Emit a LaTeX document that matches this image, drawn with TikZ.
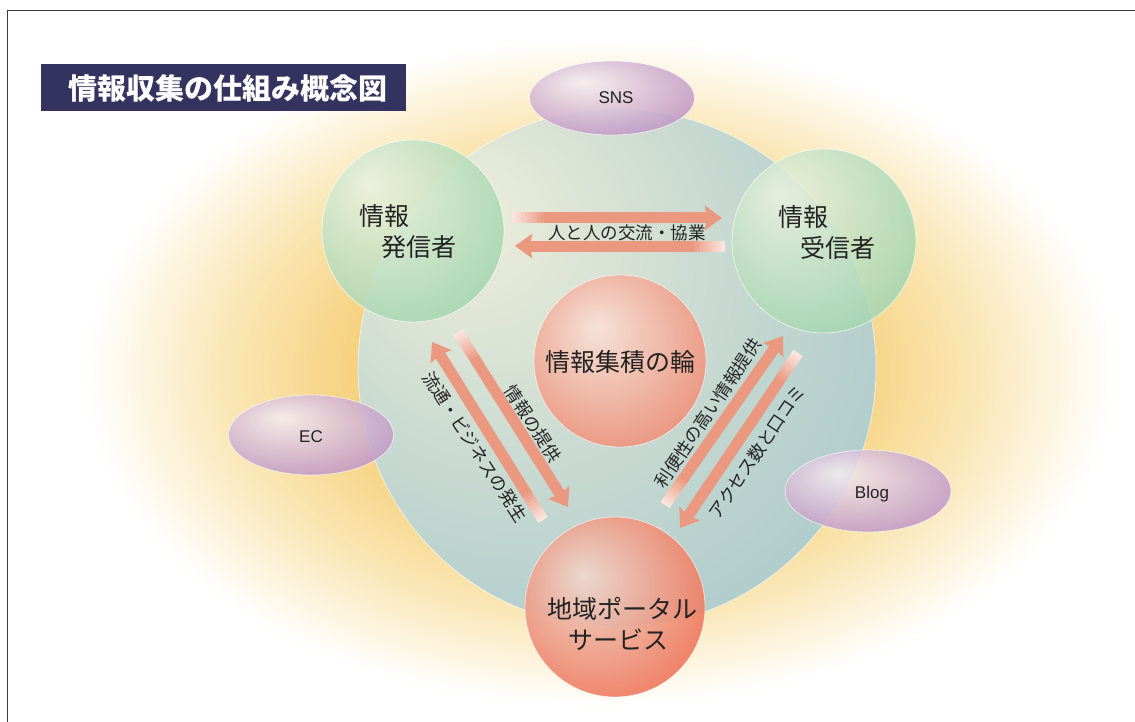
\documentclass[tikz,border=0pt]{standalone}
\usepackage{fontspec}
\newfontfamily\jp{Noto Sans CJK JP}
\newfontfamily\lat{Liberation Sans}
\usetikzlibrary{arrows.meta,calc,shapes.geometric}

\definecolor{navy}{RGB}{52,51,95}
\definecolor{arrowc}{RGB}{234,152,128}
\definecolor{txt}{RGB}{35,35,35}
\definecolor{framec}{RGB}{60,60,60}
\definecolor{glowA}{RGB}{245,206,118}
\definecolor{glowB}{RGB}{250,230,180}
\definecolor{bigA}{RGB}{240,239,218}
\definecolor{bigB}{RGB}{205,220,210}
\definecolor{bigC}{RGB}{156,194,200}
\definecolor{grA}{RGB}{236,242,224}
\definecolor{grB}{RGB}{150,208,166}
\definecolor{rdA}{RGB}{246,226,216}
\definecolor{rdB}{RGB}{232,138,114}
\definecolor{ptA}{RGB}{238,216,206}
\definecolor{ptB}{RGB}{239,102,71}
\definecolor{puA}{RGB}{245,238,240}
\definecolor{puB}{RGB}{182,134,188}

\pgfdeclareradialshading{glowsh}{\pgfpoint{0bp}{0bp}}{color(0bp)=(glowA); color(11bp)=(glowA); color(18bp)=(glowB); color(25bp)=(white); color(50bp)=(white)}
\pgfdeclareradialshading{bigsh}{\pgfpoint{-16bp}{16bp}}{color(0bp)=(bigA); color(18bp)=(bigB); color(46bp)=(bigC); color(60bp)=(bigC)}
\pgfdeclareradialshading{greensh}{\pgfpoint{-12bp}{13bp}}{color(0bp)=(grA); color(40bp)=(grB); color(60bp)=(grB)}
\pgfdeclareradialshading{redsh}{\pgfpoint{-7bp}{10bp}}{color(0bp)=(rdA); color(37bp)=(rdB); color(60bp)=(rdB)}
\pgfdeclareradialshading{portsh}{\pgfpoint{-9bp}{9bp}}{color(0bp)=(ptA); color(38bp)=(ptB); color(60bp)=(ptB)}
\pgfdeclareradialshading{purpsh}{\pgfpoint{-9bp}{11bp}}{color(0bp)=(puA); color(38bp)=(puB); color(60bp)=(puB)}

\tikzset{
  ball/.style={circle, inner sep=0pt, draw=white, draw opacity=0.6, line width=0.8pt},
  greenball/.style={ball, shade, shading=greensh, fill opacity=0.87},
  purpball/.style={ellipse, inner sep=0pt, draw=white, draw opacity=0.6, line width=0.8pt, shade, shading=purpsh, fill opacity=0.87},
  shaft/.style={line width=11pt, line cap=butt},
  lbl/.style={font=\jp\fontsize{17.5}{20}\selectfont, text=txt, inner sep=0pt},
  big/.style={font=\jp\fontsize{25}{31}\selectfont, text=txt, inner sep=0pt, align=left},
  latl/.style={font=\lat\fontsize{17}{20}\selectfont, text=txt, inner sep=0pt}
}

\newcommand\fatarrow[2]{%
  \foreach \i in {0,...,9}{%
    \pgfmathsetmacro\ta{\i*0.015}%
    \pgfmathsetmacro\tb{(\i+1)*0.015+0.004}%
    \pgfmathtruncatemacro\cc{25+\i*7.5}%
    \draw[shaft, draw=arrowc!\cc!white] ($(#1)!\ta!(#2)$) -- ($(#1)!\tb!(#2)$);
  }%
  \draw[shaft, draw=arrowc, -{Stealth[width=24pt,length=17pt,inset=2pt]}] ($(#1)!0.15!(#2)$) -- (#2);
}

\begin{document}
\begin{tikzpicture}[x=1pt,y=-1pt]
\useasboundingbox (0,0) rectangle (1135,722);
\fill[white] (0,0) rectangle (1135,722);

% frame
\draw[framec, line width=1pt] (7.5,722) -- (7.5,10.5) -- (1135,10.5);

% glow
\shade[shading=glowsh] (600,372) ellipse [x radius=515pt, y radius=335pt];

% big circle
\node[ball, shade, shading=bigsh, minimum size=518pt] (ring) at (617,368) {};

% green circles
\node[greenball, minimum size=182pt] (snd) at (413,231) {};
\node[greenball, minimum size=184pt] (rcv) at (824,241) {};

% purple ellipses
\node[purpball, minimum width=165pt, minimum height=74pt] (sns) at (612,98) {};
\node[purpball, minimum width=165pt, minimum height=80pt] (ec) at (311,435) {};
\node[purpball, minimum width=166pt, minimum height=82pt] (blog) at (868,491) {};

% centre and portal
\node[ball, shade, shading=redsh, minimum size=172pt] (core) at (620,361) {};
\node[ball, shade, shading=portsh, fill opacity=0.93, minimum size=180pt] (portal) at (615,607) {};

% arrows
\coordinate (t1) at (512,218); \coordinate (h1) at (722,218);
\coordinate (t2) at (725,246); \coordinate (h2) at (515,246);
\coordinate (t3) at (458,332); \coordinate (h3) at (568,507);
\coordinate (t4) at (543,520); \coordinate (h4) at (432,342);
\coordinate (t5) at (665,505); \coordinate (h5) at (783,336);
\coordinate (t6) at (798,353); \coordinate (h6) at (680,528);
\fatarrow{t1}{h1}
\fatarrow{t2}{h2}
\fatarrow{t3}{h3}
\fatarrow{t4}{h4}
\fatarrow{t5}{h5}
\fatarrow{t6}{h6}

% texts
\node[big] (sndt) at (408,232) {情報\\\hspace*{22pt}発信者};
\node[big] (rcvt) at (827,232) {情報\\\hspace*{22pt}受信者};
\node[big] (coret) at (620,362) {情報集積の輪};
\node[big, align=center] (portalt) at (618,624) {\hspace*{8pt}地域ポータル\\サービス};
\node[latl] (snst) at (616,98) {SNS};
\node[latl] (ect) at (311,437) {EC};
\node[latl] (blogt) at (872,494) {Blog};

\node[lbl] (l1) at (627,233) {人と人の交流・協業};
\node[lbl, rotate=-57] (l3) at (533,424) {情報の提供};
\node[lbl, rotate=-57] (l4) at (475,447) {流通・ビジネスの発生};
\node[lbl, rotate=56] (l5) at (708,413) {利便性の高い情報提供};
\node[lbl, rotate=56] (l6) at (757,452) {アクセス数と口コミ};

% title
\node[fill=navy, minimum width=365pt, minimum height=47pt, inner sep=0pt] (titlebox) at (223.5,87.5) {};
\node[font=\jp\bfseries\fontsize{29}{32}\selectfont, text=white, inner sep=0pt] (title) at (228,88) {情報収集の仕組み概念図};
\end{tikzpicture}
\end{document}
